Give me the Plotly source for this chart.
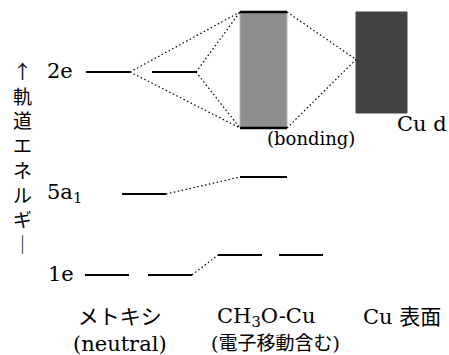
import plotly.graph_objects as go

# Orbital energies on a relative scale (arbitrary units, higher = less bound)
methoxy_levels = {"2e": 283, "5a1": 161, "1e": 80}
ch3ocu_levels = {"5a1": 178, "1e": 100}
bonding_band = [227, 343]      # bottom, top of the CH3O-Cu bonding band
cu_d_band = [242, 343]         # bottom, top of the Cu d band

column_labels = ["メトキシ<br>(neutral)", "CH<sub>3</sub>O-Cu", "Cu 表面"]
column_sublabels = ["", "(電子移動含む)", ""]
axis_title = ["↑", "軌", "道", "エ", "ネ", "ル", "ギ", "｜"]

# horizontal layout of the diagram (pixel-like x units)
W, H = 449, 355
half = 22
x_me_a, x_me_b, x_me_5a1 = 109, 172, 144
x_cu_a, x_cu_b, x_band = 240, 301, 263.5
band_half = 23.5
x_cud, cud_half = 381.5, 25.5

SERIF = "DejaVu Serif, Liberation Serif, Noto Sans CJK JP, serif"
CJK = "Noto Sans CJK JP, Noto Sans CJK SC, sans-serif"
fig = go.Figure()


def level(xc, e, hw=half, width=2.2):
    fig.add_trace(go.Scatter(x=[xc - hw, xc + hw], y=[e, e], mode="lines",
                             line=dict(color="black", width=width),
                             hoverinfo="skip", showlegend=False))


def dotted(x0, y0, x1, y1):
    fig.add_trace(go.Scatter(x=[x0, x1], y=[y0, y1], mode="lines",
                             line=dict(color="black", width=1.2, dash="1.5px,2.5px"),
                             hoverinfo="skip", showlegend=False))


def band(xc, hw, lo, hi, color, edge=None):
    fig.add_trace(go.Scatter(x=[xc - hw, xc + hw, xc + hw, xc - hw, xc - hw],
                             y=[lo, lo, hi, hi, lo], mode="lines", fill="toself",
                             fillcolor=color, line=dict(color=edge or color, width=1),
                             hoverinfo="skip", showlegend=False))


# bands
band(x_band, band_half, bonding_band[0], bonding_band[1], "#8f8f8f", "#b4b4b4")
level(x_band, bonding_band[1], band_half, 2.4)
level(x_band, bonding_band[0], band_half, 2.4)
band(x_cud, cud_half, cu_d_band[0], cu_d_band[1], "#424242")

# methoxy levels (degenerate e levels drawn as pairs)
e2 = methoxy_levels["2e"]
level(x_me_a - 1, e2)
level(x_me_b + 2, e2)
level(x_me_5a1, methoxy_levels["5a1"])
e1 = methoxy_levels["1e"]
level(x_me_a - 2, e1)
level(x_me_b - 2, e1)

# CH3O-Cu levels
level(x_band, ch3ocu_levels["5a1"], band_half)
level(x_cu_a, ch3ocu_levels["1e"])
level(x_cu_b, ch3ocu_levels["1e"])

# correlation lines
bl, br = x_band - band_half, x_band + band_half
for xs in (x_me_a - 1 + half, x_me_b + 2 + half):
    dotted(xs, e2, bl, bonding_band[1])
    dotted(xs, e2, bl, bonding_band[0])
cud_mid = cu_d_band[1] - 0.47 * (cu_d_band[1] - cu_d_band[0])
dotted(br, bonding_band[1], x_cud - cud_half, cud_mid)
dotted(br, bonding_band[0], x_cud - cud_half, cud_mid)
dotted(x_me_5a1 + half, methoxy_levels["5a1"], bl, ch3ocu_levels["5a1"])
dotted(x_me_b - 2 + half, e1, x_cu_a - half, ch3ocu_levels["1e"])


# text
def label(x, y, text, size=21, family=SERIF, **kw):
    fig.add_annotation(x=x, y=y, text=text, showarrow=False,
                       font=dict(family=family, size=size, color="black"),
                       xanchor="center", yanchor="middle", **kw)


label(60, e2 + 1, "2e")
label(64, methoxy_levels["5a1"] + 1, "5a<sub>1</sub>")
label(61, e1 + 1, "1e")
label(311, bonding_band[0] - 10, "(bonding)", size=18)
label(422, cu_d_band[0] - 11, "Cu d")

label(120, 25, column_labels[0], size=21)
label(266, 38, column_labels[1], size=21)
label(275, 12, column_sublabels[1], size=19)
label(402, 38, column_labels[2], size=21)

# vertical axis caption, one glyph per line
label(22, 198, "<br>".join(axis_title), size=19, family=CJK)

fig.update_xaxes(range=[0, W], visible=False, fixedrange=True)
fig.update_yaxes(range=[0, H], visible=False, fixedrange=True)
fig.update_layout(width=W, height=H, margin=dict(l=0, r=0, t=0, b=0),
                  plot_bgcolor="white", paper_bgcolor="white")
fig.write_html("out.html")
